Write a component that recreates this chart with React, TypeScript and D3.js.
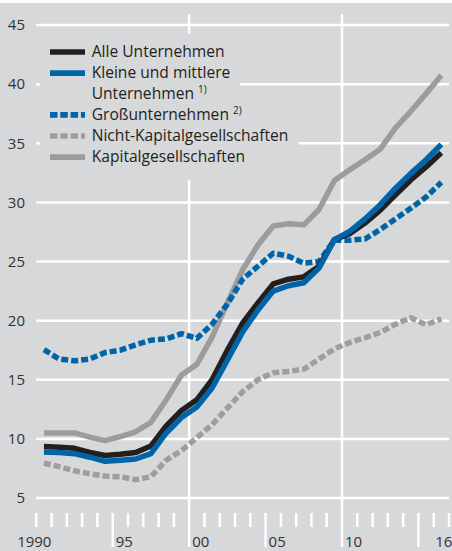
import React from "react";
import { select, scaleLinear, line, range } from "d3";

// data: shares in percent, yearly values 1990-2016
const years = range(1990, 2017);
const alleUnternehmen = [9.35, 9.3, 9.2, 8.85, 8.6, 8.7, 8.85, 9.4, 11.1, 12.4, 13.3, 15.0, 17.5, 19.8, 21.5, 23.1, 23.5, 23.7, 24.6, 26.85, 27.35, 28.25, 29.35, 30.65, 31.9, 33.0, 34.2];
const kmu = [8.9, 8.85, 8.75, 8.45, 8.1, 8.2, 8.3, 8.75, 10.5, 11.8, 12.7, 14.3, 16.65, 19.05, 20.9, 22.5, 22.95, 23.2, 24.45, 26.85, 27.55, 28.6, 29.8, 31.2, 32.45, 33.6, 34.9];
const grossUnternehmen = [17.55, 16.75, 16.6, 16.75, 17.3, 17.5, 17.95, 18.35, 18.45, 18.9, 18.5, 19.7, 21.4, 23.5, 24.6, 25.7, 25.45, 24.85, 25.0, 26.8, 26.8, 26.9, 27.7, 28.6, 29.5, 30.45, 31.7];
const nichtKapital = [7.95, 7.65, 7.3, 7.05, 6.85, 6.8, 6.55, 6.8, 8.2, 9.0, 10.1, 11.2, 12.6, 14.0, 15.0, 15.6, 15.7, 15.9, 16.75, 17.6, 18.15, 18.55, 19.0, 19.7, 20.25, 19.65, 20.15];
const kapital = [10.5, 10.5, 10.5, 10.15, 9.85, 10.2, 10.6, 11.4, 13.3, 15.4, 16.3, 18.6, 21.5, 24.3, 26.4, 28.0, 28.2, 28.1, 29.4, 31.85, 32.75, 33.6, 34.5, 36.3, 37.7, 39.2, 40.75];

const yTicks = [5, 10, 15, 20, 25, 30, 35, 40, 45];
const xLabels = [
  { year: 1990, text: "1990" },
  { year: 1995, text: "95" },
  { year: 2000, text: "00" },
  { year: 2005, text: "05" },
  { year: 2010, text: "10" },
  { year: 2016, text: "16" }
];
const longTicks = [1995, 2005, 2015];
const gridYears = [2000, 2010];

const BLACK = "#231f20";
const BLUE = "#0064a8";
const GRAY = "#9c9c9e";
const GRAY_DASH = "#9e9ea0";
const BG = "#d7d8da";
const FONT = "'Open Sans', sans-serif";
const FS = 15.6;

const series = [
  { name: "kap", values: kapital, color: GRAY, dash: null },
  { name: "nicht", values: nichtKapital, color: GRAY_DASH, dash: "7 3" },
  { name: "gross", values: grossUnternehmen, color: BLUE, dash: "7 3" },
  { name: "alle", values: alleUnternehmen, color: BLACK, dash: null },
  { name: "kmu", values: kmu, color: BLUE, dash: null }
];

const legendRows = [
  { lines: ["Alle Unternehmen"], sup: null, color: BLACK, dash: null, top: 34, bottom: 62 },
  { lines: ["Kleine und mittlere", "Unternehmen"], sup: "1)", color: BLUE, dash: null, top: 62, bottom: 104 },
  { lines: ["Großunternehmen"], sup: "2)", color: BLUE, dash: "7.5 2.8", top: 104, bottom: 125.5 },
  { lines: ["Nicht-Kapitalgesellschaften"], sup: null, color: GRAY_DASH, dash: "7.5 2.8", top: 125.5, bottom: 147.5 },
  { lines: ["Kapitalgesellschaften"], sup: null, color: GRAY, dash: null, top: 147.5, bottom: 180 }
];

export default function App() {
  const svgRef = React.useRef(null);

  React.useEffect(() => {
    const svg = select(svgRef.current);
    svg.selectAll("*").remove();

    const x = scaleLinear().domain([1990, 2017]).range([36.3, 449]);
    const y = scaleLinear().domain([5, 45]).range([498, 25]);

    svg.append("rect").attr("x", 0).attr("y", 3).attr("width", 452).attr("height", 548).attr("fill", BG);

    // horizontal grid
    svg.append("g")
      .selectAll("line")
      .data(yTicks)
      .join("line")
      .attr("x1", x(1990))
      .attr("x2", 449)
      .attr("y1", d => y(d))
      .attr("y2", d => y(d))
      .attr("stroke", "#fff")
      .attr("stroke-width", 2.5);

    // vertical grid
    svg.append("g")
      .selectAll("line")
      .data(gridYears)
      .join("line")
      .attr("x1", d => x(d))
      .attr("x2", d => x(d))
      .attr("y1", 14)
      .attr("y2", 547)
      .attr("stroke", "#fff")
      .attr("stroke-width", 2.5);

    // year ticks
    const tickYears = range(1990, 2018).filter(d => !gridYears.includes(d));
    svg.append("g")
      .selectAll("line")
      .data(tickYears)
      .join("line")
      .attr("x1", d => x(d))
      .attr("x2", d => x(d))
      .attr("y1", 513)
      .attr("y2", d => (longTicks.includes(d) ? 547 : 527))
      .attr("stroke", "#fff")
      .attr("stroke-width", 2.5);

    // y labels
    svg.append("g")
      .selectAll("text")
      .data(yTicks)
      .join("text")
      .attr("x", 25)
      .attr("y", d => y(d))
      .attr("dy", "0.35em")
      .attr("text-anchor", "end")
      .attr("font-family", FONT)
      .attr("font-weight", 500)
      .attr("font-size", 15)
      .attr("fill", "#333")
      .text(d => d);

    // x labels
    svg.append("g")
      .selectAll("text")
      .data(xLabels)
      .join("text")
      .attr("x", d => (d.year === 1990 ? x(d.year) - 2 : d.year === 2016 ? x(d.year) + 1.5 : x(d.year) + 3))
      .attr("y", 547)
      .attr("text-anchor", d => (d.year === 1990 ? "middle" : "start"))
      .attr("font-family", FONT)
      .attr("font-weight", 500)
      .attr("font-size", 15)
      .attr("fill", "#333")
      .text(d => d.text);

    // lines
    const path = line()
      .x((v, i) => x(years[i] + 0.5))
      .y(v => y(v));
    svg.append("g")
      .selectAll("path")
      .data(series)
      .join("path")
      .attr("d", d => path(d.values))
      .attr("fill", "none")
      .attr("stroke", d => d.color)
      .attr("stroke-width", 5.5)
      .attr("stroke-dasharray", d => d.dash)
      .attr("stroke-linejoin", "round");

    // legend
    const lg = svg.append("g");
    const lineH = 20.6;
    let rowY = 51.7;
    legendRows.forEach(row => {
      const bg = lg.append("rect").attr("fill", BG);
      const texts = [];
      row.lines.forEach((txt, j) => {
        const t = lg.append("text")
          .attr("x", 91.7)
          .attr("y", rowY + j * lineH)
          .attr("dy", "0.35em")
          .attr("font-family", FONT)
          .attr("font-weight", 500)
          .attr("font-size", FS)
          .attr("fill", BLACK)
          .text(txt);
        if (row.sup && j === row.lines.length - 1) {
          t.append("tspan").attr("font-size", 10).attr("dx", 4).attr("dy", "-0.55em").text(row.sup);
        }
        texts.push(t);
      });
      const maxW = Math.max(...texts.map(t => t.node().getBBox().x + t.node().getBBox().width));
      bg.attr("x", 40).attr("y", row.top).attr("width", maxW + 10 - 40).attr("height", row.bottom - row.top);
      lg.append("line")
        .attr("x1", 50)
        .attr("x2", 85)
        .attr("y1", rowY + 0.3)
        .attr("y2", rowY + 0.3)
        .attr("stroke", row.color)
        .attr("stroke-width", 5.7)
        .attr("stroke-dasharray", row.dash);
      rowY += row.lines.length * lineH + (row.lines.length > 1 ? 0.4 : 0.6);
    });
  }, []);

  return (
    <svg
      ref={svgRef}
      width={452}
      height={551}
      style={{ position: "absolute", left: 0, top: 0, background: "#fff" }}
    />
  );
}
